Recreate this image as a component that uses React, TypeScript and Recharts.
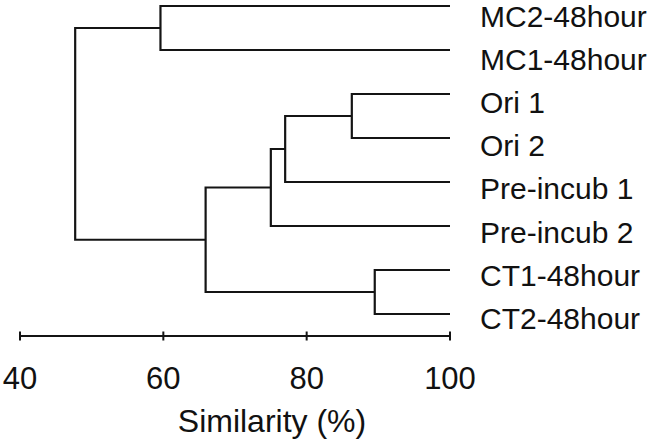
import { ComposedChart, Line, XAxis, YAxis } from 'recharts';

// Leaves top to bottom
const leafLabels = [
  'MC2-48hour',
  'MC1-48hour',
  'Ori 1',
  'Ori 2',
  'Pre-incub 1',
  'Pre-incub 2',
  'CT1-48hour',
  'CT2-48hour',
];

// Linkage table: ids below 8 are leaves, 8 and up are earlier merges
const mergePairs: [number, number][] = [
  [2, 3],
  [8, 4],
  [9, 5],
  [6, 7],
  [0, 1],
  [10, 11],
  [12, 13],
];
const mergeSimilarity = [86.3, 77.0, 75.0, 89.5, 59.6, 65.9, 47.7];

const xTicks = [40, 60, 80, 100];

const FONT = '"Liberation Sans", Arial, Helvetica, sans-serif';
const INK = '#141414';

// leaves sit at 100%, each merge sits at the mean row of its two children
const nodes = leafLabels.map((_, i) => ({ x: 100, row: i }));
mergePairs.forEach(([a, b], k) => {
  nodes.push({ x: mergeSimilarity[k], row: (nodes[a].row + nodes[b].row) / 2 });
});

// one bracket per merge
const links = mergePairs.map(([a, b], k) => {
  const p = nodes[leafLabels.length + k];
  return [
    { x: nodes[a].x, row: nodes[a].row },
    { x: p.x, row: nodes[a].row },
    { x: p.x, row: nodes[b].row },
    { x: nodes[b].x, row: nodes[b].row },
  ];
});

function AxisTick(props: any) {
  const { x, y, payload } = props;
  return (
    <g>
      <line x1={x} x2={x} y1={y - 4.5} y2={y + 4.5} stroke={INK} strokeWidth={2} />
      <text x={x} y={y + 52.5} textAnchor="middle" fontSize={31} fill="#111" fontFamily={FONT}>
        {payload.value}
      </text>
    </g>
  );
}

export default function App() {
  return (
    <div style={{ position: 'absolute', left: 0, top: 0, background: '#fff' }}>
      <ComposedChart width={661} height={440} margin={{ top: 1.6, right: 0, bottom: 0, left: 20 }}>
        <XAxis
          type="number"
          dataKey="x"
          domain={[40, 100]}
          ticks={xTicks}
          interval={0}
          allowDataOverflow
          height={104}
          axisLine={{ stroke: INK, strokeWidth: 2 }}
          tickLine={false}
          tickSize={0}
          tickMargin={0}
          tick={<AxisTick />}
          label={{
            value: 'Similarity (%)',
            position: 'insideBottom',
            offset: 8,
            dx: 37,
            fontSize: 32,
            fill: '#111',
            fontFamily: FONT,
          }}
        />
        <YAxis yAxisId="rows" type="number" domain={[-0.1, 7.5]} reversed hide allowDataOverflow />
        <YAxis
          yAxisId="names"
          type="number"
          orientation="right"
          domain={[-0.346, 7.418]}
          reversed
          allowDataOverflow
          ticks={leafLabels.map((_, i) => i)}
          interval={0}
          tickFormatter={(v: number) => leafLabels[v]}
          width={211}
          axisLine={false}
          tickLine={false}
          tickSize={0}
          tickMargin={30}
          tick={{ fontSize: 30, fill: '#111', fontFamily: FONT, textAnchor: 'start' }}
        />
        {links.map((d, i) => (
          <Line
            key={i}
            yAxisId="rows"
            data={d}
            dataKey="row"
            type="linear"
            stroke={INK}
            strokeWidth={2.2}
            dot={false}
            activeDot={false}
            isAnimationActive={false}
          />
        ))}
      </ComposedChart>
    </div>
  );
}
